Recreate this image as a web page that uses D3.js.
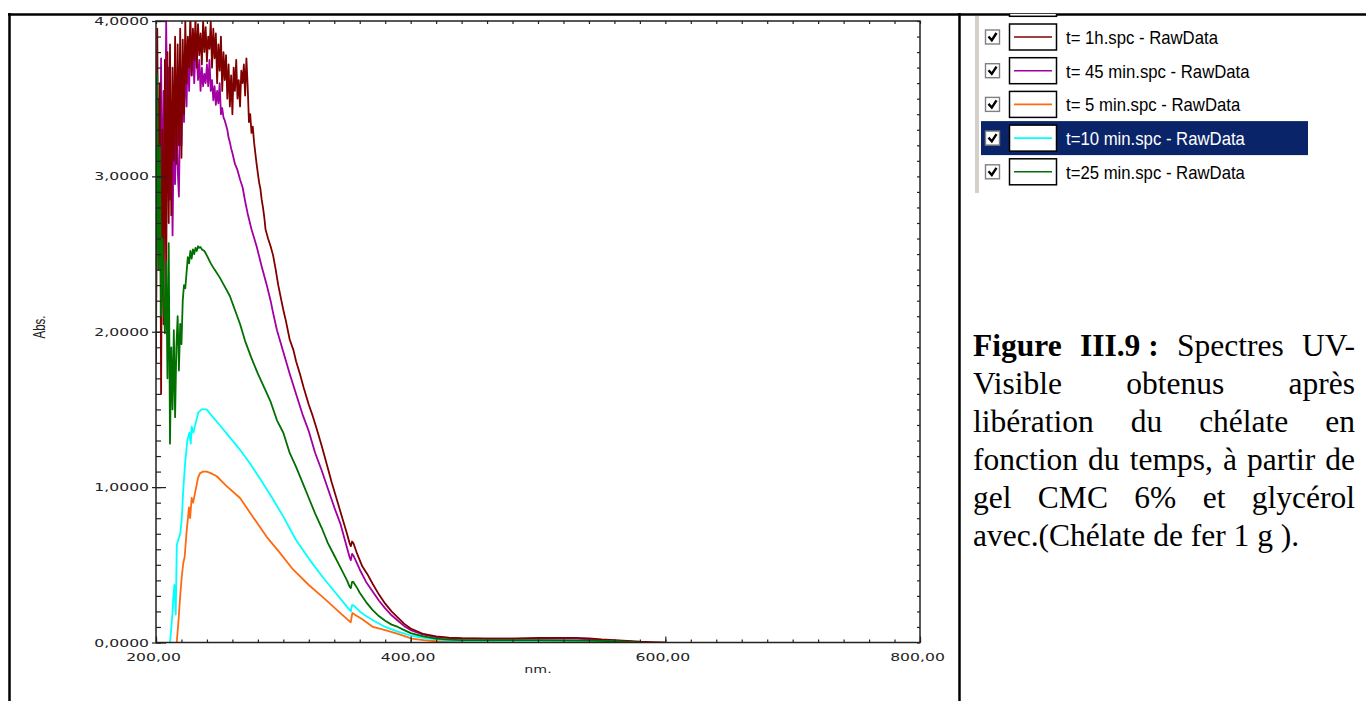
<!DOCTYPE html>
<html>
<head>
<meta charset="utf-8">
<script src="https://cdn.jsdelivr.net/npm/d3@7"></script>
<style>
  html, body { margin: 0; padding: 0; background: #fff; overflow: hidden; }
  svg { display: block; }
</style>
</head>
<body>
<svg id="fig" width="1366" height="701"></svg>
<script>
// ---- axis ticks and labels ----
const xTicks = [200, 400, 600, 800];
const xTickLabels = ["200,00", "400,00", "600,00", "800,00"];
const yTicks = [0, 1, 2, 3, 4];
const yTickLabels = ["0,0000", "1,0000", "2,0000", "3,0000", "4,0000"];
const xTitle = "nm.";
const yTitle = "Abs.";

// ---- series (wavelength nm, absorbance) ----
const seriesNames = [
  "t= 1h.spc - RawData",
  "t= 45 min.spc - RawData",
  "t= 5 min.spc - RawData",
  "t=10 min.spc - RawData",
  "t=25 min.spc - RawData"
];
const seriesColors = ["#800000", "#a200a2", "#ff6a10", "#00ffff", "#007000"];
// stacking order of the traces (back to front)
const drawOrder = [1, 0, 2, 3, 4];

const spec1h = [
  [200,1.80],[201,3.95],[202,2.40],[203,3.60],[204,1.60],[205,3.30],[206,2.05],[207,3.75],[208,2.30],[209,3.80],
  [210,2.70],[211,3.85],[212,2.75],[213,3.70],[214,3.10],[215,3.90],[216,3.08],[217,3.85],[218,3.20],[219,3.95],
  [220,3.12],[221,3.88],[222,3.40],[223,4.00],[224,3.60],[225,3.90],[226,3.70],[227,4.05],[228,3.65],[229,3.95],
  [230,3.75],[231,4.02],[232,3.70],[233,3.98],[234,3.78],[235,3.92],[236,3.72],[237,4.00],[238,3.80],[239,3.96],
  [240,3.74],[241,3.90],[242,3.82],[243,4.00],[244,3.70],[245,3.95],[246,3.76],[247,3.92],[248,3.60],[249,3.85],
  [250,3.68],[251,3.90],[252,3.55],[253,3.80],[254,3.62],[255,3.78],[256,3.50],[257,3.72],[258,3.45],[259,3.65],
  [260,3.40],[261,3.70],[262,3.55],[263,3.75],[264,3.50],[265,3.62],[266,3.45],[267,3.68],[268,3.60],[269,3.72],
  [270,3.52],[271,3.76],[272,3.58],[273,3.35],[274,3.40],[275,3.28],[276,3.32],[277,3.22],[278,3.15],[279,3.08],
  [280,3.02],[281,2.96],[282,2.92],[283,2.85],[284,2.80],[285,2.74],[286,2.66],[287,2.63],[288,2.60],[290,2.55],
  [292,2.49],[294,2.40],[296,2.30],[298,2.22],[300,2.14],[302,2.07],[305,1.95],[308,1.88],[310,1.81],[313,1.73],
  [316,1.64],[320,1.53],[323,1.46],[326,1.38],[330,1.27],[334,1.15],[338,1.03],[342,0.92],[346,0.81],[350,0.70],
  [352,0.64],[353,0.62],[354,0.65],[355,0.64],[358,0.57],[362,0.49],[366,0.44],[370,0.38],[375,0.31],[380,0.25],
  [385,0.20],[390,0.16],[395,0.12],[400,0.09],[410,0.055],[420,0.04],[430,0.032],[440,0.028],[460,0.025],[480,0.025],
  [500,0.03],[530,0.03],[540,0.027],[550,0.02],[560,0.015],[570,0.01],[580,0.005],[590,0.003],[600,0]
];

const spec45 = [
  [200,3.20],[201,2.60],[202,3.50],[203,2.90],[204,3.76],[205,2.70],[206,3.55],[207,3.10],[208,4.00],[209,3.20],
  [210,3.70],[211,2.85],[212,3.40],[213,2.62],[214,3.30],[215,2.95],[216,3.55],[217,3.05],[218,2.87],[219,3.45],
  [220,3.20],[221,3.70],[222,3.35],[223,3.80],[224,3.45],[225,3.85],[226,3.55],[227,3.90],[228,3.65],[229,3.88],
  [230,3.60],[231,3.82],[232,3.77],[233,3.62],[234,3.75],[235,3.55],[236,3.70],[237,3.58],[238,3.66],[239,3.60],
  [240,3.72],[241,3.58],[242,3.75],[243,3.55],[244,3.62],[245,3.49],[246,3.58],[247,3.46],[248,3.55],[249,3.47],
  [250,3.60],[251,3.40],[252,3.44],[253,3.38],[254,3.36],[255,3.33],[256,3.30],[257,3.25],[258,3.22],[259,3.18],
  [260,3.15],[262,3.08],[264,3.04],[266,2.98],[268,2.93],[270,2.84],[272,2.76],[275,2.66],[279,2.55],[283,2.42],
  [287,2.30],[290,2.20],[292,2.12],[295,2.01],[300,1.87],[305,1.73],[310,1.60],[315,1.47],[320,1.36],[325,1.22],
  [330,1.11],[335,0.99],[340,0.87],[345,0.76],[350,0.61],[352,0.55],[353,0.53],[354,0.57],[355,0.56],[360,0.47],
  [365,0.39],[370,0.33],[375,0.27],[380,0.22],[385,0.175],[390,0.14],[395,0.105],[400,0.08],[410,0.05],[420,0.035],
  [430,0.028],[440,0.025],[500,0.025],[530,0.025],[550,0.015],[570,0.008],[580,0]
];

const spec5 = [
  [216.3,0],[217.7,0.145],[219,0.30],[220.2,0.42],[221.4,0.51],[222.5,0.55],[224.1,0.72],[225.9,0.87],[226.8,0.80],
  [228,0.93],[229.1,0.90],[230.6,0.96],[233,1.06],[234.6,1.09],[237,1.10],[239.8,1.10],[243,1.09],[247.7,1.07],
  [255,1.01],[266,0.93],[276,0.81],[286.9,0.68],[297,0.58],[307.6,0.47],[320,0.37],[331.2,0.29],[342,0.21],
  [352.9,0.13],[354.2,0.19],[356,0.18],[362,0.15],[370.4,0.10],[380,0.08],[390,0.055],[401,0.025],[410,0.015],
  [420,0.008],[430,0.005],[440,0.003],[500,0.003],[560,0.003],[575,0]
];

const spec10 = [
  [211,0],[211.8,0.07],[213,0.20],[213.6,0.29],[214.4,0.37],[215.5,0.18],[216.3,0.62],[217,0.65],[218.3,0.68],
  [219,0.70],[220.2,0.79],[221.4,0.98],[222.8,1.15],[224.6,1.30],[226.2,1.35],[227.3,1.28],[228,1.39],[229.3,1.35],
  [231.4,1.42],[233.2,1.48],[235.9,1.50],[239.8,1.50],[243.7,1.46],[250,1.40],[258,1.32],[266,1.24],[274,1.15],
  [282,1.05],[292,0.92],[300,0.81],[310,0.66],[320,0.54],[331,0.42],[340,0.33],[348,0.25],[351,0.22],[353,0.20],
  [354,0.24],[355,0.24],[360,0.20],[365,0.17],[370,0.145],[380,0.10],[390,0.07],[400,0.045],[410,0.03],[420,0.02],
  [430,0.012],[440,0.01],[500,0.01],[540,0.01],[560,0.005],[575,0]
];

const spec25 = [
  [200,2.00],[201,3.66],[202,2.40],[203,3.20],[204,2.10],[205,2.60],[206,2.22],[207,1.99],[208,2.45],[209,1.70],
  [210,2.57],[211,1.28],[212,1.90],[213,1.50],[214,2.01],[215,1.45],[216,1.90],[217,2.10],[218,1.75],[219,2.05],
  [220,1.92],[221,2.20],[222,2.30],[223,2.28],[224,2.38],[225,2.48],[226,2.44],[227,2.52],[228,2.47],[229,2.53],
  [230,2.50],[231,2.54],[232,2.52],[233,2.55],[234,2.54],[235,2.545],[236,2.53],[238,2.52],[240,2.49],[243,2.44],
  [246,2.40],[250,2.35],[254,2.29],[258,2.23],[262,2.14],[266,2.05],[270,1.94],[275,1.83],[280,1.73],[285,1.64],
  [290,1.55],[295,1.43],[300,1.35],[305,1.22],[310,1.13],[315,1.03],[320,0.93],[325,0.83],[330,0.74],[335,0.64],
  [340,0.56],[345,0.48],[350,0.40],[352,0.36],[353,0.35],[354,0.39],[355,0.39],[358,0.35],[360,0.32],[365,0.26],
  [370,0.21],[375,0.17],[380,0.14],[385,0.115],[390,0.10],[395,0.08],[400,0.06],[410,0.04],[420,0.025],[430,0.018],
  [440,0.015],[500,0.015],[540,0.012],[560,0.008],[575,0.003],[580,0]
];

const seriesData = [spec1h, spec45, spec5, spec10, spec25];

// ---- caption ----
const captionLines = [
  "Figure III.9\u00a0: Spectres UV-",
  "Visible obtenus après",
  "libération du chélate en",
  "fonction du temps, à partir de",
  "gel CMC 6% et glycérol",
  "avec.(Chélate de fer 1 g )."
];
const captionBoldWords = 2;

// ================= drawing =================
const svg = d3.select("#fig");
const plot = { left: 156, right: 920, top: 21, bottom: 642.5 };

const x = d3.scaleLinear().domain([200, 800]).range([plot.left, plot.right]);
const y = d3.scaleLinear().domain([0, 4]).range([plot.bottom, plot.top]);

// page table rules
const rules = svg.append("g").attr("stroke", "#000").attr("stroke-width", 2.5);
rules.append("line").attr("x1", 8).attr("x2", 1366).attr("y1", 14.5).attr("y2", 14.5);
rules.append("line").attr("x1", 9.5).attr("x2", 9.5).attr("y1", 13).attr("y2", 701);
rules.append("line").attr("x1", 959.5).attr("x2", 959.5).attr("y1", 13).attr("y2", 701);

// clip for the spectra
svg.append("clipPath").attr("id", "plotClip")
  .append("rect")
  .attr("x", plot.left).attr("y", plot.top)
  .attr("width", plot.right - plot.left).attr("height", plot.bottom - plot.top);

// spectra
const line = d3.line().x(d => x(d[0])).y(d => y(d[1]));
svg.append("g").attr("clip-path", "url(#plotClip)")
  .selectAll("path")
  .data(drawOrder)
  .join("path")
  .attr("d", i => line(seriesData[i]))
  .attr("fill", "none")
  .attr("stroke", i => seriesColors[i])
  .attr("stroke-width", 1.8)
  .attr("stroke-linejoin", "round");

// axes
const xMinor = d3.range(200, 801, 20);
const yMinor = d3.range(0, 4.001, 0.1).map(v => +v.toFixed(1));
const axisColor = "#222";

function styleAxis(g) {
  g.select(".domain").remove();
  g.selectAll("line").attr("stroke", axisColor).attr("stroke-width", 1.2);
}
function stretch(sel, k) {
  sel.each(function () {
    const w = this.getComputedTextLength();
    this.setAttribute("textLength", w * k);
    this.setAttribute("lengthAdjust", "spacingAndGlyphs");
  });
}

// bottom
svg.append("g").attr("transform", `translate(0,${plot.bottom})`)
  .call(d3.axisBottom(x).tickValues(xMinor).tickSize(-3).tickFormat(""))
  .call(styleAxis);
const gxb = svg.append("g").attr("transform", `translate(0,${plot.bottom})`)
  .call(d3.axisBottom(x).tickValues(xTicks).tickSize(-6).tickPadding(11)
        .tickFormat((d, i) => xTickLabels[i]))
  .call(styleAxis);
gxb.selectAll("text")
  .attr("font-family", "DejaVu Sans").attr("font-size", 11).attr("fill", "#222")
  .attr("dx", -3);
stretch(gxb.selectAll("text"), 1.42);

// top
svg.append("g").attr("transform", `translate(0,${plot.top})`)
  .call(d3.axisTop(x).tickValues(xMinor).tickSize(-3).tickFormat(""))
  .call(styleAxis);

// left
svg.append("g").attr("transform", `translate(${plot.left},0)`)
  .call(d3.axisLeft(y).tickValues(yMinor).tickSize(-5).tickFormat(""))
  .call(styleAxis);
svg.append("g").attr("transform", `translate(${plot.left},0)`)
  .call(d3.axisLeft(y).tickValues(yTicks).tickSize(-10).tickFormat(""))
  .call(styleAxis);
const gyl = svg.append("g").attr("transform", `translate(${plot.left},0)`)
  .call(d3.axisLeft(y).tickValues(yTicks).tickSize(4).tickPadding(3)
        .tickFormat((d, i) => yTickLabels[i]))
  .call(styleAxis);
gyl.selectAll("text")
  .attr("font-family", "DejaVu Sans").attr("font-size", 11).attr("fill", "#222");
stretch(gyl.selectAll("text"), 1.42);

// right
svg.append("g").attr("transform", `translate(${plot.right},0)`)
  .call(d3.axisRight(y).tickValues(yMinor).tickSize(-3).tickFormat(""))
  .call(styleAxis);

// frame
svg.append("rect")
  .attr("x", plot.left).attr("y", plot.top)
  .attr("width", plot.right - plot.left).attr("height", plot.bottom - plot.top)
  .attr("fill", "none").attr("stroke", axisColor).attr("stroke-width", 1.5);

// axis titles
const xt = svg.append("text")
  .attr("x", (plot.left + plot.right) / 2).attr("y", 673)
  .attr("text-anchor", "middle")
  .attr("font-family", "DejaVu Sans").attr("font-size", 10).attr("fill", "#222")
  .text(xTitle);
stretch(xt, 1.42);

const yt = svg.append("text")
  .attr("transform", "translate(45,327) rotate(-90)")
  .attr("text-anchor", "middle")
  .attr("font-family", "Liberation Sans").attr("font-size", 16).attr("fill", "#222")
  .text(yTitle);
stretch(yt, 0.72);

// ---- legend panel ----
const leg = svg.append("g");
const rowY0 = 37, rowStep = 33.7;
const rowY = i => rowY0 + i * rowStep;
const selectedRow = 3;

leg.append("rect").attr("x", 975).attr("y", 16).attr("width", 4).attr("height", 177)
  .attr("fill", "#d4d0c8");

// cut-off entry above the first visible row
leg.append("clipPath").attr("id", "legClip")
  .append("rect").attr("x", 960).attr("y", 14).attr("width", 406).attr("height", 200);
leg.append("rect").attr("clip-path", "url(#legClip)")
  .attr("x", 1009.5).attr("y", rowY(-1) - 13).attr("width", 47).attr("height", 26)
  .attr("fill", "#fff").attr("stroke", "#000").attr("stroke-width", 1.5);

const rows = leg.selectAll("g.row").data(seriesNames).join("g")
  .attr("class", "row")
  .attr("transform", (d, i) => `translate(0,${rowY(i)})`);

rows.filter((d, i) => i === selectedRow)
  .append("rect")
  .attr("x", 981).attr("y", -17).attr("width", 327).attr("height", 34)
  .attr("fill", "#0a246a");

rows.append("rect")
  .attr("x", 985.5).attr("y", -7).attr("width", 14).attr("height", 14)
  .attr("fill", "#fff").attr("stroke", "#808080").attr("stroke-width", 1.4);
rows.append("path")
  .attr("d", "M988.5,-0.5 L991.8,3.2 L996.5,-4")
  .attr("fill", "none").attr("stroke", "#000").attr("stroke-width", 2.4);

rows.append("rect")
  .attr("x", 1009.5).attr("y", -13).attr("width", 47).attr("height", 26)
  .attr("fill", "#fff").attr("stroke", "#000").attr("stroke-width", 1.5);
rows.append("line")
  .attr("x1", 1014).attr("x2", 1052).attr("y1", 0).attr("y2", 0)
  .attr("stroke", (d, i) => seriesColors[i]).attr("stroke-width", 1.6);

const legText = rows.append("text")
  .attr("x", 1066).attr("y", 7)
  .attr("font-family", "Liberation Sans").attr("font-size", 19)
  .attr("fill", (d, i) => i === selectedRow ? "#fff" : "#000")
  .text(d => d);
stretch(legText, 0.88);

// ---- caption (justified paragraph) ----
const cap = svg.append("g")
  .attr("font-family", "Liberation Serif").attr("font-size", 31.5).attr("fill", "#000");
const capLeft = 973, capRight = 1355, capBase0 = 356, capStep = 38;
let wordIndex = 0;
captionLines.forEach((ln, li) => {
  const words = ln.split(" ");
  const nodes = words.map(w => {
    const t = cap.append("text").attr("y", capBase0 + li * capStep).text(w);
    if (wordIndex < captionBoldWords) t.attr("font-weight", "bold");
    wordIndex++;
    return t;
  });
  const widths = nodes.map(t => t.node().getComputedTextLength());
  const total = d3.sum(widths);
  const isLast = li === captionLines.length - 1;
  const gap = (!isLast && words.length > 1)
    ? (capRight - capLeft - total) / (words.length - 1)
    : 31.5 * 0.25;
  let cx = capLeft;
  nodes.forEach((t, k) => { t.attr("x", cx); cx += widths[k] + gap; });
});
</script>
</body>
</html>
